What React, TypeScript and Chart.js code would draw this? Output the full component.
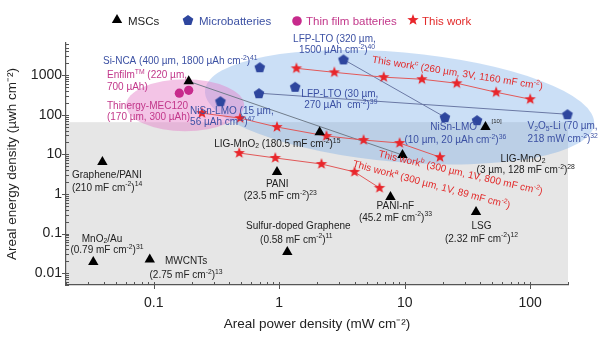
import React, { useEffect, useRef } from 'react';
import { Chart, registerables } from 'chart.js';

Chart.register(...registerables);

// ---------------- data ----------------
const mscX = [0.19, 2.1, 9.6, 44, 0.039, 0.96, 7.7, 37, 1.16, 0.033, 0.093];
const mscY = [700, 36, 9.6, 49, 6.4, 3.6, 0.84, 0.35, 0.034, 0.019, 0.022];
const mscLink = [0, 2];

const microX = [0.7, 3.25, 1.34, 0.69, 0.34, 20.9, 37.7, 198];
const microY = [1590, 2500, 510, 350, 220, 87, 73, 103];
const microLinks = [[1, 5], [3, 7]];

const thinX = [0.16, 0.19];
const thinY = [350, 415];

const workAX = [0.48, 0.93, 2.17, 3.98, 6.3];
const workAY = [10.8, 8.1, 5.7, 3.6, 1.42];
const workBX = [0.242, 0.488, 0.96, 2.38, 4.7, 9.1, 19.1];
const workBY = [110, 82, 49, 29, 23, 19.3, 8.5];
const workCX = [1.37, 2.75, 6.8, 13.7, 26, 53.5, 100];
const workCY = [1490, 1180, 890, 790, 625, 370, 247];

const xTickValues = [0.1, 1, 10, 100];
const xTickLabels = ['0.1', '1', '10', '100'];
const yTickValues = [0.01, 0.1, 1, 10, 100, 1000];
const yTickLabels = ['0.01', '0.1', '1', '10', '100', '1000'];

const legendLabels = ['MSCs', 'Microbatteries', 'Thin film batteries', 'This work'];

// shaded regions (data coordinates, extents in decades)
const grayRegionTop = 65;
const blueRegion = { cx: 9.1, cy: 155, rxDec: 1.556, ryDec: 1.385, rot: 5 };
const pinkRegion = { cx: 0.178, cy: 174, rxDec: 0.47, ryDec: 0.655, rot: 0 };

// ---------------- styles ----------------
const FONT = '"Liberation Sans", Arial, Helvetica, sans-serif';
const BLUE_T = '#3b50a3';
const MAG_T = '#c2378a';
const RED_T = '#e22a2a';
const BLK_T = '#222222';
const PENT_C = '#2e469e';
const STAR_C = '#e8262b';
const THIN_C = '#c72a8c';

// annotations: text (^{} superscript, _{} subscript), anchor in data coords
const annotations = [
  { t: 'Si-NCA (400 µm, 1800 µAh cm^{-2})^{41}', x: 0.0394, y: 2240, c: BLUE_T, a: 'left' },
  { t: 'Enfilm^{TM} (220 µm,', x: 0.0424, y: 994, c: MAG_T, a: 'left' },
  { t: '700 µAh)', x: 0.0424, y: 496, c: MAG_T, a: 'left' },
  { t: 'Thinergy-MEC120', x: 0.0424, y: 165, c: MAG_T, a: 'left' },
  { t: '(170 µm, 300 µAh)', x: 0.0424, y: 87, c: MAG_T, a: 'left' },
  { t: 'NiSn-LMO (15 µm,', x: 0.195, y: 123, c: BLUE_T, a: 'left' },
  { t: '56 µAh cm^{-2})^{47}', x: 0.195, y: 65, c: BLUE_T, a: 'left' },
  { t: 'LFP-LTO (320 µm,', x: 1.29, y: 8020, c: BLUE_T, a: 'left' },
  { t: '1500 µAh cm^{-2})^{40}', x: 1.44, y: 4240, c: BLUE_T, a: 'left' },
  { t: 'This work^{c} (260 µm, 3V, 1160 mF cm^{-2})', x: 26.3, y: 1117, c: RED_T, a: 'center', r: 9 },
  { t: 'LFP-LTO (30 µm,', x: 1.5, y: 330, c: BLUE_T, a: 'left' },
  { t: '270 µAh  cm^{-2})^{39}', x: 1.58, y: 175, c: BLUE_T, a: 'left' },
  { t: 'NiSn-LMO', x: 16.0, y: 48.7, c: BLUE_T, a: 'left' },
  { t: '(10 µm, 20 µAh cm^{-2})^{36}', x: 9.95, y: 22.9, c: BLUE_T, a: 'left' },
  { t: '[10]', x: 49.2, y: 69, c: BLK_T, a: 'left', s: 6 },
  { t: 'V_{2}O_{5}-Li (70 µm,', x: 95.3, y: 51.6, c: BLUE_T, a: 'left' },
  { t: '218 mW cm^{-2})^{32}', x: 95.3, y: 24.3, c: BLUE_T, a: 'left' },
  { t: 'LIG-MnO_{2}', x: 58.0, y: 7.62, c: BLK_T, a: 'left' },
  { t: '(3 µm, 128 mF cm^{-2})^{28}', x: 37.4, y: 4.02, c: BLK_T, a: 'left' },
  { t: 'LIG-MnO_{2} (180.5 mF cm^{-2})^{15}', x: 0.303, y: 18.2, c: BLK_T, a: 'left' },
  { t: 'This work^{b} (300 µm, 1V, 800 mF cm^{-2})', x: 27.8, y: 3.38, c: RED_T, a: 'center', r: 13 },
  { t: 'This work^{a} (300 µm, 1V, 89 mF cm^{-2})', x: 16.3, y: 1.69, c: RED_T, a: 'center', r: 15 },
  { t: 'PANI', x: 0.964, y: 1.79, c: BLK_T, a: 'center' },
  { t: '(23.5 mF cm^{-2})^{23}', x: 1.02, y: 0.89, c: BLK_T, a: 'center' },
  { t: 'PANI-nF', x: 8.43, y: 0.499, c: BLK_T, a: 'center' },
  { t: '(45.2 mF cm^{-2})^{33}', x: 8.43, y: 0.248, c: BLK_T, a: 'center' },
  { t: 'LSG', x: 40.9, y: 0.156, c: BLK_T, a: 'center' },
  { t: '(2.32 mF cm^{-2})^{12}', x: 40.9, y: 0.0735, c: BLK_T, a: 'center' },
  { t: 'Sulfur-doped Graphene', x: 1.42, y: 0.156, c: BLK_T, a: 'center' },
  { t: '(0.58 mF cm^{-2})^{11}', x: 1.37, y: 0.0694, c: BLK_T, a: 'center' },
  { t: 'Graphene/PANI', x: 0.0223, y: 3.01, c: BLK_T, a: 'left' },
  { t: '(210 mF cm^{-2})^{14}', x: 0.0223, y: 1.42, c: BLK_T, a: 'left' },
  { t: 'MnO_{2}/Au', x: 0.0387, y: 0.0735, c: BLK_T, a: 'center' },
  { t: '(0.79 mF cm^{-2})^{31}', x: 0.0424, y: 0.0367, c: BLK_T, a: 'center' },
  { t: 'MWCNTs', x: 0.181, y: 0.0194, c: BLK_T, a: 'center' },
  { t: '(2.75 mF cm^{-2})^{13}', x: 0.181, y: 0.0086, c: BLK_T, a: 'center' },
];

// legend layout (pixels)
const legendLayout = { y: 20, items: [
  { sx: 117, tx: 128, color: BLK_T },
  { sx: 188, tx: 199, color: BLUE_T },
  { sx: 297, tx: 306, color: MAG_T },
  { sx: 413, tx: 422, color: RED_T },
] };

// ---------------- helpers ----------------
function parseRich(text: string) {
  const out: any[] = [];
  const re = /(\^\{[^}]*\}|_\{[^}]*\})/g;
  let last = 0;
  let m: any;
  while ((m = re.exec(text))) {
    if (m.index > last) out.push({ t: text.slice(last, m.index), k: 0 });
    out.push({ t: m[0].slice(2, -1), k: m[0][0] === '^' ? 1 : -1 });
    last = m.index + m[0].length;
  }
  if (last < text.length) out.push({ t: text.slice(last), k: 0 });
  return out;
}

function drawRich(ctx: any, text: string, x: number, y: number, size: number, color: string, align: string, rot?: number) {
  const segs = parseRich(text);
  const font = (k: number) => `${k ? size * 0.68 : size}px ${FONT}`;
  let w = 0;
  for (const s of segs) {
    ctx.font = font(s.k);
    s.w = ctx.measureText(s.t).width;
    w += s.w;
  }
  ctx.save();
  ctx.translate(x, y);
  if (rot) ctx.rotate((rot * Math.PI) / 180);
  let cx = align === 'left' ? 0 : align === 'right' ? -w : -w / 2;
  ctx.fillStyle = color;
  ctx.textBaseline = 'middle';
  ctx.textAlign = 'left';
  for (const s of segs) {
    ctx.font = font(s.k);
    const dy = s.k === 1 ? -size * 0.33 : s.k === -1 ? size * 0.25 : 0;
    ctx.fillText(s.t, cx, dy);
    cx += s.w;
  }
  ctx.restore();
}

function makeShape(kind: string, r: number, color: string) {
  const c = document.createElement('canvas');
  const s = Math.ceil(r * 2 + 2);
  c.width = s;
  c.height = s;
  const g = c.getContext('2d') as CanvasRenderingContext2D;
  g.fillStyle = color;
  g.beginPath();
  const n = kind === 'star' ? 10 : 5;
  for (let i = 0; i < n; i++) {
    const ang = -Math.PI / 2 + (i * 2 * Math.PI) / n;
    const rr = kind === 'star' ? (i % 2 ? r * 0.42 : r) : r;
    const px = s / 2 + rr * Math.cos(ang);
    const py = s / 2 + rr * Math.sin(ang) + (kind === 'pent' ? r * 0.1 : 0);
    if (i) g.lineTo(px, py);
    else g.moveTo(px, py);
  }
  g.closePath();
  g.fill();
  return c;
}

function drawRegion(ctx: any, xs: any, ys: any, reg: any, fill: string) {
  const cx = xs.getPixelForValue(reg.cx);
  const cy = ys.getPixelForValue(reg.cy);
  const rx = xs.getPixelForValue(reg.cx * Math.pow(10, reg.rxDec)) - cx;
  const ry = cy - ys.getPixelForValue(reg.cy * Math.pow(10, reg.ryDec));
  ctx.beginPath();
  ctx.ellipse(cx, cy, rx, ry, (reg.rot * Math.PI) / 180, 0, Math.PI * 2);
  ctx.fillStyle = fill;
  ctx.fill();
}

const pts = (xs: number[], ys: number[]) => xs.map((x, i) => ({ x, y: ys[i] }));

export default function App() {
  const ref = useRef<HTMLCanvasElement>(null);

  useEffect(() => {
    const star = makeShape('star', 6, STAR_C);
    const pent = makeShape('pent', 5.6, PENT_C);

    const backgroundPlugin = {
      id: 'bgRegions',
      beforeDraw(chart: any) {
        const { ctx, chartArea } = chart;
        const xs = chart.scales.x;
        const ys = chart.scales.y;
        ctx.save();
        const gt = ys.getPixelForValue(grayRegionTop);
        ctx.fillStyle = '#e6e6e6';
        ctx.fillRect(chartArea.left, gt, chartArea.right - chartArea.left, chartArea.bottom - gt);
        drawRegion(ctx, xs, ys, blueRegion, 'rgba(110,165,230,0.36)');
        drawRegion(ctx, xs, ys, pinkRegion, 'rgba(228,125,200,0.45)');
        ctx.restore();
      },
    };

    const overlayPlugin = {
      id: 'overlay',
      afterDraw(chart: any) {
        const { ctx, chartArea } = chart;
        const xs = chart.scales.x;
        const ys = chart.scales.y;
        ctx.save();
        // tick marks
        ctx.strokeStyle = '#555';
        ctx.lineWidth = 1;
        ctx.beginPath();
        for (let e = -3; e <= 3; e++) {
          for (let m = 1; m <= 9; m++) {
            const v = m * Math.pow(10, e);
            if (v >= xs.min * 0.999 && v <= xs.max * 1.001) {
              const px = Math.round(xs.getPixelForValue(v)) + 0.5;
              ctx.moveTo(px, chartArea.bottom - 3);
              ctx.lineTo(px, chartArea.bottom + (m === 1 ? 4 : 0));
            }
            if (v >= ys.min * 0.999 && v <= ys.max * 1.001) {
              const py = Math.round(ys.getPixelForValue(v)) + 0.5;
              ctx.moveTo(chartArea.left + 3, py);
              ctx.lineTo(chartArea.left - (m === 1 ? 4 : 0), py);
            }
          }
        }
        ctx.stroke();
        // annotations
        for (const an of annotations) {
          const px = xs.getPixelForValue(an.x);
          const py = ys.getPixelForValue(an.y);
          drawRich(ctx, an.t, px, py, (an as any).s || 10, an.c, an.a, (an as any).r || 0);
        }
        // legend
        const ly = legendLayout.y;
        legendLayout.items.forEach((it, i) => {
          if (i === 0) {
            const r = 6;
            ctx.fillStyle = '#000';
            ctx.beginPath();
            ctx.moveTo(it.sx, ly - r);
            ctx.lineTo(it.sx + r * Math.sin((2 * Math.PI) / 3), ly - r * Math.cos((2 * Math.PI) / 3));
            ctx.lineTo(it.sx - r * Math.sin((2 * Math.PI) / 3), ly - r * Math.cos((2 * Math.PI) / 3));
            ctx.closePath();
            ctx.fill();
          } else if (i === 1) {
            ctx.drawImage(pent, it.sx - pent.width / 2, ly - pent.height / 2);
          } else if (i === 2) {
            ctx.fillStyle = THIN_C;
            ctx.beginPath();
            ctx.arc(it.sx, ly + 1, 4.8, 0, Math.PI * 2);
            ctx.fill();
          } else {
            ctx.drawImage(star, it.sx - star.width / 2, ly - star.height / 2);
          }
          drawRich(ctx, legendLabels[i], it.tx, ly + 1.5, 11.5, it.color, 'left');
        });
        ctx.restore();
      },
    };

    const lineDs = (data: any[], color: string) => ({
      data,
      showLine: true,
      borderColor: color,
      borderWidth: 1,
      pointRadius: 0,
      order: 5,
      clip: false,
    });

    const chart = new Chart(ref.current as HTMLCanvasElement, {
      type: 'scatter',
      data: {
        datasets: [
          lineDs(mscLink.map((i) => ({ x: mscX[i], y: mscY[i] })), '#707c8a'),
          ...microLinks.map(([a, b]) =>
            lineDs([{ x: microX[a], y: microY[a] }, { x: microX[b], y: microY[b] }], '#6a78a4')
          ),
          { label: 'This work c', data: pts(workCX, workCY), showLine: true, borderColor: '#e25858', borderWidth: 1, pointStyle: star, pointRadius: 6, order: 3, clip: false },
          { label: 'This work b', data: pts(workBX, workBY), showLine: true, borderColor: '#e25858', borderWidth: 1, pointStyle: star, pointRadius: 6, order: 3, clip: false },
          { label: 'This work a', data: pts(workAX, workAY), showLine: true, borderColor: '#e25858', borderWidth: 1, pointStyle: star, pointRadius: 6, order: 3, clip: false },
          { label: 'MSCs', data: pts(mscX, mscY), pointStyle: 'triangle', pointRadius: 6, backgroundColor: '#000', borderColor: '#000', borderWidth: 0, order: 1, clip: false },
          { label: 'Microbatteries', data: pts(microX, microY), pointStyle: pent, pointRadius: 6, order: 1, clip: false },
          { label: 'Thin film batteries', data: pts(thinX, thinY), pointStyle: 'circle', pointRadius: 4.6, backgroundColor: THIN_C, borderColor: THIN_C, borderWidth: 0, order: 1, clip: false },
        ] as any,
      },
      options: {
        responsive: false,
        animation: false,
        devicePixelRatio: 1,
        layout: { padding: { left: 0, right: 32, top: 43, bottom: 0 } },
        plugins: { legend: { display: false }, tooltip: { enabled: false } },
        scales: {
          x: {
            type: 'logarithmic',
            min: 0.02,
            max: 200,
            grid: { display: false, drawTicks: false },
            border: { display: true, color: '#555', width: 1.2 },
            afterBuildTicks: (s: any) => {
              s.ticks = xTickValues.map((v) => ({ value: v }));
            },
            afterFit: (s: any) => {
              s.height = 55;
            },
            ticks: {
              autoSkip: false,
              maxRotation: 0,
              padding: 10,
              color: '#222',
              font: { size: 14, family: FONT },
              callback: (_v: any, i: number) => xTickLabels[i],
            },
            title: {
              display: true,
              text: 'Areal power density (mW cm⁻²)',
              color: '#222',
              font: { size: 13.5, family: FONT },
              padding: { top: 0, bottom: 8 },
            },
          },
          y: {
            type: 'logarithmic',
            min: 0.005,
            max: 6500,
            grid: { display: false, drawTicks: false },
            border: { display: true, color: '#555', width: 1.2 },
            afterBuildTicks: (s: any) => {
              s.ticks = yTickValues.map((v) => ({ value: v }));
            },
            afterFit: (s: any) => {
              s.width = 66;
            },
            ticks: {
              autoSkip: false,
              padding: 4,
              color: '#222',
              font: { size: 14, family: FONT },
              callback: (_v: any, i: number) => yTickLabels[i],
            },
            title: {
              display: true,
              text: 'Areal energy density (µwh cm⁻²)',
              color: '#222',
              font: { size: 13.5, family: FONT },
              padding: { top: 4, bottom: 0 },
            },
          },
        },
      } as any,
      plugins: [backgroundPlugin, overlayPlugin],
    });
    return () => chart.destroy();
  }, []);

  return (
    <div style={{ position: 'fixed', left: 0, top: 0, width: 600, height: 340, background: '#fff' }}>
      <canvas ref={ref} width={600} height={340} style={{ width: 600, height: 340, display: 'block' }} />
    </div>
  );
}
